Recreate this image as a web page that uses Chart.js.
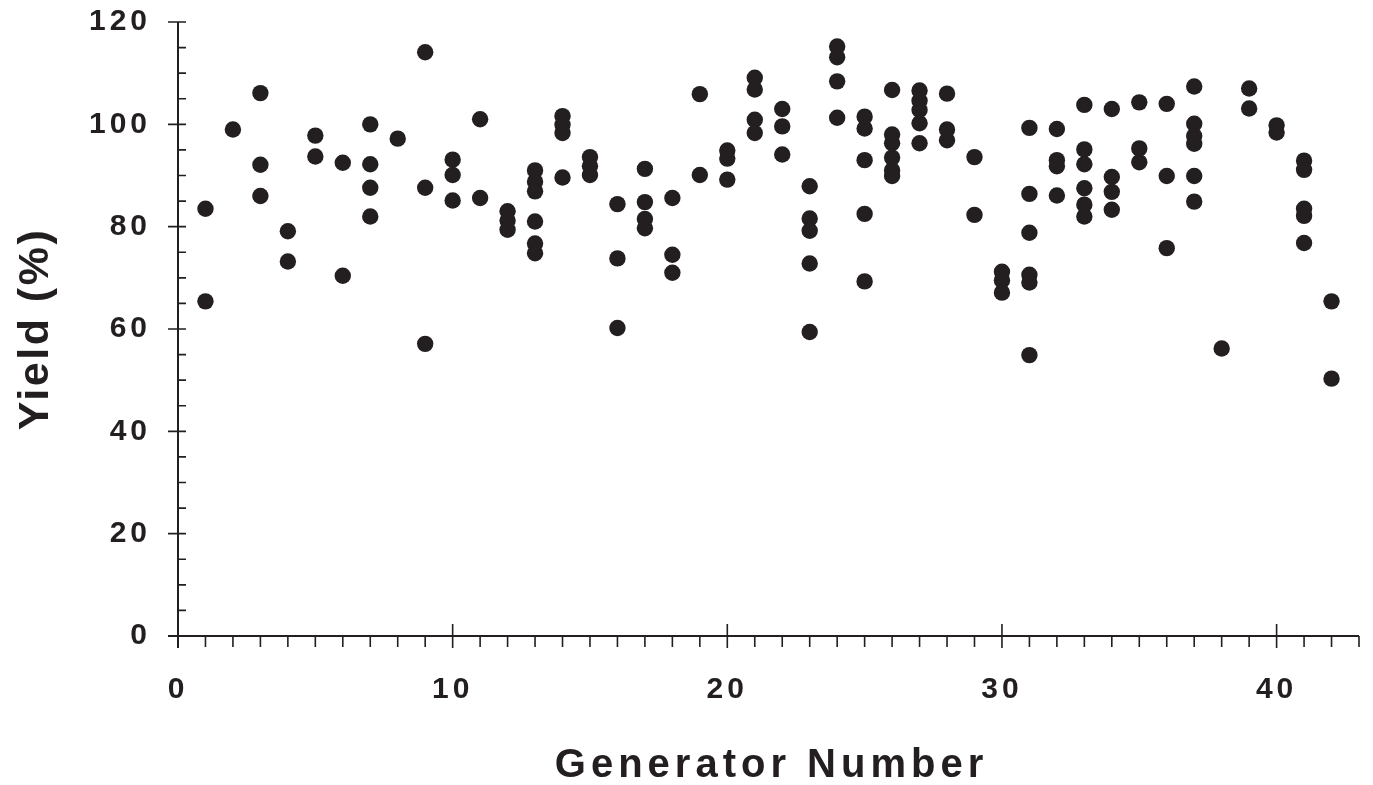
<!DOCTYPE html>
<html>
<head>
<meta charset="utf-8">
<script src="https://cdn.jsdelivr.net/npm/chart.js@4.4.1/dist/chart.umd.min.js"></script>
<style>
html,body{margin:0;padding:0;background:#fff;}
#wrap{width:1373px;height:785px;}
</style>
</head>
<body>
<div id="wrap"><canvas id="myChart"></canvas></div>
<script>
var generators=[
	1,1, 2, 3,3,3, 4,4, 5,5, 6,6, 7,7,7,7, 8, 9,9,9, 10,10,10,
	11,11, 12,12,12, 13,13,13,13,13,13, 14,14,14,14, 15,15,15, 16,16,16,
	17,17,17,17, 18,18,18, 19,19, 20,20,20, 21,21,21,21, 22,22,22,
	23,23,23,23,23, 24,24,24,24, 25,25,25,25,25, 26,26,26,26,26,26,
	27,27,27,27,27, 28,28,28, 29,29, 30,30,30, 31,31,31,31,31,31,
	32,32,32,32, 33,33,33,33,33,33, 34,34,34,34, 35,35,35, 36,36,36,
	37,37,37,37,37,37, 38, 39,39, 40,40, 41,41,41,41,41, 42,42
];
var yields=[
	83.5,65.4, 99.0, 106.1,92.1,86.0, 79.1,73.2, 97.8,93.7, 92.5,70.4, 100.0,92.2,87.6,82.0, 97.2, 114.1,87.6,57.1, 93.1,90.1,85.1,
	101.0,85.6, 83.0,81.2,79.4, 91.0,88.8,86.9,81.0,76.7,74.8, 101.6,99.9,98.3,89.6, 93.6,91.8,90.1, 84.4,73.8,60.2,
	91.3,84.8,81.5,79.7, 85.6,74.5,71.0, 105.9,90.1, 94.9,93.3,89.2, 109.1,106.8,100.9,98.3, 103.0,99.6,94.1,
	87.9,81.6,79.2,72.8,59.4, 115.2,113.1,108.4,101.3, 101.5,99.2,93.0,82.5,69.3, 106.7,98.0,96.3,93.5,91.0,89.9,
	106.6,104.6,102.8,100.2,96.3, 106.0,99.0,96.9, 93.6,82.3, 71.2,69.5,67.1, 99.3,86.4,78.8,70.6,69.1,54.9,
	99.1,93.0,91.8,86.1, 103.8,95.1,92.2,87.5,84.3,82.0, 103.0,89.7,86.8,83.3, 104.3,95.3,92.6, 104.0,89.9,75.8,
	107.4,100.1,97.7,96.2,89.9,84.9, 56.2, 107.0,103.1, 99.8,98.4, 92.9,91.1,83.5,82.1,76.8, 65.4,50.3
];
var xMajorTicks=[0,10,20,30,40];
var yMajorTicks=[0,20,40,60,80,100,120];
var xTitle='Generator Number';
var yTitle='Yield (%)';

var ink='#231f20';
var fontFamily='"Liberation Sans", Arial, Helvetica, sans-serif';

var points=generators.map(function(g,i){return {x:g,y:yields[i]};});

// axis lines, minor/major tick marks and the two axis titles
var axesPlugin={
	id:'axes',
	beforeDraw:function(chart){
		chart.ctx.letterSpacing='4px';
	},
	afterDraw:function(chart){
		var ctx=chart.ctx, xs=chart.scales.x, ys=chart.scales.y;
		var x0=xs.getPixelForValue(xs.min), y0=ys.getPixelForValue(ys.min);
		var x1=xs.getPixelForValue(xs.max), y1=ys.getPixelForValue(ys.max);
		ctx.save();
		ctx.strokeStyle=ink;
		ctx.lineWidth=2;
		ctx.beginPath();
		ctx.moveTo(x0-10,y0);ctx.lineTo(x1,y0);
		ctx.moveTo(x0,y0+12);ctx.lineTo(x0,y1);
		ctx.stroke();
		ctx.lineWidth=1.6;
		ctx.beginPath();
		for(var v=xs.min+1;v<=xs.max;v++){
			var px=xs.getPixelForValue(v);
			if(v%10===0){ctx.moveTo(px,y0-12);ctx.lineTo(px,y0+12);}
			else{ctx.moveTo(px,y0);ctx.lineTo(px,y0+11);}
		}
		for(var w=ys.min+5;w<=ys.max;w+=5){
			var py=ys.getPixelForValue(w);
			if(w%20===0){ctx.moveTo(x0-10,py);ctx.lineTo(x0+8,py);}
			else{ctx.moveTo(x0,py);ctx.lineTo(x0+8,py);}
		}
		ctx.stroke();

		ctx.fillStyle=ink;
		ctx.textAlign='center';
		ctx.textBaseline='middle';
		ctx.font='bold 40px '+fontFamily;
		ctx.letterSpacing='5px';
		ctx.fillText(xTitle,(x0+x1)/2+3,chart.height-19);
		ctx.font='bold 43px '+fontFamily;
		ctx.letterSpacing='2.5px';
		ctx.translate(36,(y0+y1)/2);
		ctx.rotate(-Math.PI/2);
		ctx.fillText(yTitle,0,0);
		ctx.restore();
	}
};

var ctx=document.getElementById('myChart').getContext('2d');
var myChart=new Chart(ctx,{
	type:'scatter',
	data:{
		datasets:[{
			label:'Yield',
			data:points,
			backgroundColor:ink,
			borderWidth:0,
			pointRadius:8.2,
			pointHoverRadius:8.2
		}]
	},
	options:{
		responsive:true,
		maintainAspectRatio:false,
		animation:false,
		events:[],
		layout:{padding:{top:22,right:14,left:0,bottom:0}},
		plugins:{
			legend:{display:false},
			tooltip:{enabled:false}
		},
		scales:{
			x:{
				type:'linear',
				min:0,
				max:43,
				afterBuildTicks:function(s){s.ticks=xMajorTicks.map(function(v){return {value:v};});},
				afterFit:function(s){s.height=149;s.paddingLeft=0;s.paddingRight=0;},
				grid:{display:false,drawTicks:false},
				border:{display:false},
				ticks:{
					color:ink,
					padding:36,
					maxRotation:0,
					autoSkip:false,
					font:{family:fontFamily,size:30,weight:'bold'}
				}
			},
			y:{
				type:'linear',
				min:0,
				max:120,
				afterBuildTicks:function(s){s.ticks=yMajorTicks.map(function(v){return {value:v};});},
				afterFit:function(s){s.width=178;s.paddingTop=0;s.paddingBottom=0;},
				grid:{display:false,drawTicks:false},
				border:{display:false},
				ticks:{
					color:ink,
					padding:27,
					font:{family:fontFamily,size:30,weight:'bold'}
				}
			}
		}
	},
	plugins:[axesPlugin]
});
</script>
</body>
</html>
